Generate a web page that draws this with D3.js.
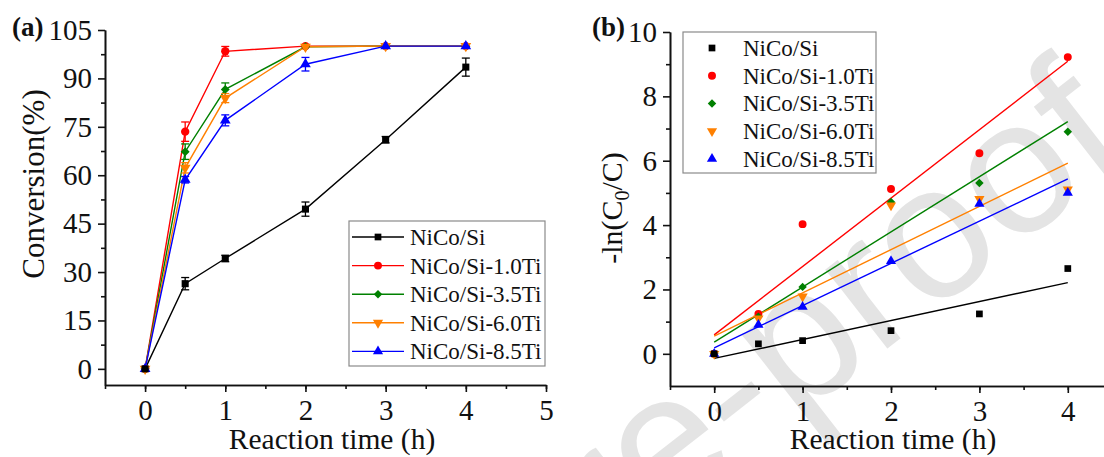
<!DOCTYPE html>
<html>
<head>
<meta charset="utf-8">
<script src="https://cdn.jsdelivr.net/npm/d3@7"></script>
<style>
  body { margin: 0; background: #fff; }
  svg text { font-family: "Liberation Serif", "Times New Roman", serif; fill: #111; }
</style>
</head>
<body>
<div id="chart"></div>
<script>
// ---- data ----
const times = [0, 0.5, 1, 2, 3, 4];
const seriesNames = ["NiCo/Si", "NiCo/Si-1.0Ti", "NiCo/Si-3.5Ti", "NiCo/Si-6.0Ti", "NiCo/Si-8.5Ti"];

// (a) conversion (%) and error bars
const convNiCo = [0, 26.4, 34.2, 49.5, 71.0, 93.5];
const conv10Ti = [0, 73.5, 98.4, 100, 100, 100];
const conv35Ti = [0, 67.3, 86.6, 99.8, 100, 100];
const conv60Ti = [0, 62.3, 83.9, 99.8, 100, 100];
const conv85Ti = [0, 58.6, 77.0, 94.4, 100, 100];
const errNiCo = [0.6, 1.9, 1.0, 2.2, 1.0, 2.8];
const err10Ti = [0, 3.0, 1.5, 0.4, 0.4, 0.4];
const err35Ti = [0, 2.4, 2.0, 0.4, 0.4, 0.4];
const err60Ti = [0, 1.6, 1.4, 0.4, 0.4, 0.4];
const err85Ti = [0, 1.0, 1.7, 2.1, 0.4, 0.4];

// (b) -ln(C0/C)
const lnNiCo = [0, 0.31, 0.41, 0.72, 1.24, 2.65];
const ln10Ti = [0, 1.24, 4.03, 5.12, 6.23, 9.22];
const ln35Ti = [0, 1.15, 2.08, 4.72, 5.31, 6.9];
const ln60Ti = [0, 1.1, 1.78, 4.61, 4.81, 5.11];
const ln85Ti = [0, 0.9, 1.46, 2.88, 4.66, 5.0];

const xTicksA = [0, 1, 2, 3, 4, 5];
const yTicksA = [0, 15, 30, 45, 60, 75, 90, 105];
const xTicksB = [0, 1, 2, 3, 4];
const yTicksB = [0, 2, 4, 6, 8, 10];

// ---- styles ----
const colors = ["#000000", "#ff0000", "#008000", "#ff8000", "#0000ff"];
const symbolTypes = [d3.symbolSquare, d3.symbolCircle, d3.symbolSquare, d3.symbolTriangle, d3.symbolTriangle];
const symbolRotate = [0, 0, 45, 180, 0];
const symbolSize = [50, 55, 40, 50, 50];

const convSeries = [convNiCo, conv10Ti, conv35Ti, conv60Ti, conv85Ti];
const errSeries = [errNiCo, err10Ti, err35Ti, err60Ti, err85Ti];
const lnSeries = [lnNiCo, ln10Ti, ln35Ti, ln60Ti, ln85Ti];
// markers of the plain sample are drawn last (they sit on top at t=0)
const markerOrder = [1, 2, 3, 4, 0];

const width = 1104, height = 457;
const svg = d3.select("#chart").append("svg")
    .attr("width", width)
    .attr("height", height);

// watermark behind everything
svg.append("text")
    .attr("transform", "translate(1135,155) rotate(-38)")
    .attr("text-anchor", "end")
    .style("font-family", "'Liberation Sans', Arial, sans-serif")
    .style("font-size", "190px")
    .style("fill", "#e4e4e4")
    .text("Journal Pre-proof");

const symbolPath = (i, k) => d3.symbol().type(symbolTypes[i]).size(symbolSize[i] * k)();

// scales
const xA = d3.scaleLinear().domain([-0.5, 5]).range([105, 546]);
const yA = d3.scaleLinear().domain([-5, 105]).range([385, 30]);
const xB = d3.scaleLinear().domain([-0.5, 4.5]).range([670, 1112]);
const yB = d3.scaleLinear().domain([-1, 10]).range([386, 32]);

function drawAxes(x, y, xt, yt, xMinor, yMinor) {
  const x0 = x.range()[0], y0 = y.range()[0];
  // minor ticks
  svg.append("g").attr("class", "axis").attr("transform", `translate(0,${y0})`)
    .call(d3.axisBottom(x).tickValues(xMinor).tickSize(4).tickFormat("").tickSizeOuter(0));
  svg.append("g").attr("class", "axis").attr("transform", `translate(${x0},0)`)
    .call(d3.axisLeft(y).tickValues(yMinor).tickSize(4).tickFormat("").tickSizeOuter(0));
  // major ticks
  svg.append("g").attr("class", "axis").attr("transform", `translate(0,${y0})`)
    .call(d3.axisBottom(x).tickValues(xt).tickFormat(d => d).tickSize(7).tickPadding(7).tickSizeOuter(0));
  svg.append("g").attr("class", "axis").attr("transform", `translate(${x0},0)`)
    .call(d3.axisLeft(y).tickValues(yt).tickFormat(d => d).tickSize(7).tickPadding(6).tickSizeOuter(0));
}

drawAxes(xA, yA, xTicksA, yTicksA,
  d3.range(-0.5, 5.01, 0.5), d3.range(7.5, 105, 15));
drawAxes(xB, yB, xTicksB, yTicksB,
  d3.range(-0.5, 4.51, 0.5), d3.range(1, 10, 2));

svg.selectAll(".axis path, .axis line").attr("stroke", "#111").attr("stroke-width", 1.6);
svg.selectAll(".axis text").style("font-size", "29px").attr("fill", "#111");

// ---- panel (a) ----
const gA = svg.append("g");
seriesNames.forEach((name, i) => {
  const pts = times.map((t, k) => ({t: t, v: convSeries[i][k], e: errSeries[i][k]}));
  gA.append("path")
    .datum(pts)
    .attr("fill", "none")
    .attr("stroke", colors[i])
    .attr("stroke-width", 1.4)
    .attr("d", d3.line().x(d => xA(d.t)).y(d => yA(d.v)));
  const eb = gA.append("g").attr("stroke", colors[i]).attr("stroke-width", 1.3);
  pts.filter(d => d.e > 0.5).forEach(d => {
    const cx = xA(d.t);
    eb.append("line").attr("x1", cx).attr("x2", cx).attr("y1", yA(d.v - d.e)).attr("y2", yA(d.v + d.e));
    eb.append("line").attr("x1", cx - 4).attr("x2", cx + 4).attr("y1", yA(d.v - d.e)).attr("y2", yA(d.v - d.e));
    eb.append("line").attr("x1", cx - 4).attr("x2", cx + 4).attr("y1", yA(d.v + d.e)).attr("y2", yA(d.v + d.e));
  });
});
markerOrder.forEach(i => {
  const pts = times.map((t, k) => ({t: t, v: convSeries[i][k]}));
  gA.selectAll(null).data(pts).join("path")
    .attr("d", symbolPath(i, 1))
    .attr("fill", colors[i])
    .attr("transform", d => `translate(${xA(d.t)},${yA(d.v)}) rotate(${symbolRotate[i]})`);
});

// legend (a)
const legA = svg.append("g");
legA.append("rect").attr("x", 349).attr("y", 221).attr("width", 196).attr("height", 145)
  .attr("fill", "#fff").attr("stroke", "#8a8a8a").attr("stroke-width", 1.2);
seriesNames.forEach((name, i) => {
  const ly = 237 + i * 28.6;
  legA.append("line").attr("x1", 352).attr("x2", 404).attr("y1", ly).attr("y2", ly)
    .attr("stroke", colors[i]).attr("stroke-width", 1.4);
  legA.append("path").attr("d", symbolPath(i, 0.9)).attr("fill", colors[i])
    .attr("transform", `translate(378,${ly}) rotate(${symbolRotate[i]})`);
  legA.append("text").attr("x", 410).attr("y", ly + 8).style("font-size", "23px").text(name);
});

// ---- panel (b) ----
const gB = svg.append("g");
seriesNames.forEach((name, i) => {
  const pts = times.map((t, k) => ({t: t, v: lnSeries[i][k]}));
  // least-squares fit line
  const mx = d3.mean(pts, d => d.t), my = d3.mean(pts, d => d.v);
  const slope = d3.sum(pts, d => (d.t - mx) * (d.v - my)) / d3.sum(pts, d => (d.t - mx) ** 2);
  const icpt = my - slope * mx;
  gB.append("line")
    .attr("x1", xB(0)).attr("y1", yB(icpt))
    .attr("x2", xB(4)).attr("y2", yB(icpt + slope * 4))
    .attr("stroke", colors[i]).attr("stroke-width", 1.4);
});
markerOrder.forEach(i => {
  const pts = times.map((t, k) => ({t: t, v: lnSeries[i][k]}));
  gB.selectAll(null).data(pts).join("path")
    .attr("d", symbolPath(i, 0.9))
    .attr("fill", colors[i])
    .attr("transform", d => `translate(${xB(d.t)},${yB(d.v)}) rotate(${symbolRotate[i]})`);
});

// legend (b)
const legB = svg.append("g");
legB.append("rect").attr("x", 683).attr("y", 32).attr("width", 193).attr("height", 141)
  .attr("fill", "#fff").attr("stroke", "#8a8a8a").attr("stroke-width", 1.2);
seriesNames.forEach((name, i) => {
  const ly = 48 + i * 27.7;
  legB.append("path").attr("d", symbolPath(i, 0.9)).attr("fill", colors[i])
    .attr("transform", `translate(712,${ly}) rotate(${symbolRotate[i]})`);
  legB.append("text").attr("x", 743).attr("y", ly + 8).style("font-size", "23px").text(name);
});

// ---- titles ----
svg.append("text").attr("x", 332).attr("y", 449).attr("text-anchor", "middle")
  .style("font-size", "29.5px").text("Reaction time (h)");
svg.append("text").attr("x", 893).attr("y", 449).attr("text-anchor", "middle")
  .style("font-size", "29.5px").text("Reaction time (h)");
svg.append("text").attr("transform", "translate(44,184) rotate(-90)").attr("text-anchor", "middle")
  .style("font-size", "31px").text("Conversion(%)");
const yt = svg.append("text").attr("transform", "translate(622,208) rotate(-90)").attr("text-anchor", "middle")
  .style("font-size", "30px");
yt.append("tspan").text("-ln(C");
yt.append("tspan").attr("dy", 7).style("font-size", "20px").text("0");
yt.append("tspan").attr("dy", -7).text("/C)");

svg.append("text").attr("x", 12).attr("y", 36).style("font-size", "27px").style("font-weight", "bold").text("(a)");
svg.append("text").attr("x", 592).attr("y", 36).style("font-size", "27px").style("font-weight", "bold").text("(b)");
</script>
</body>
</html>
